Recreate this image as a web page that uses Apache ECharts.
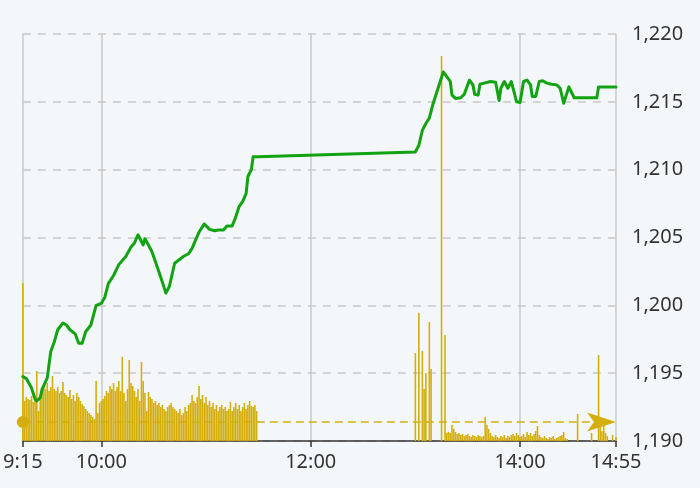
<!DOCTYPE html>
<html><head><meta charset="utf-8">
<script src="https://cdn.jsdelivr.net/npm/echarts@6/dist/echarts.min.js"></script>
<style>html,body{margin:0;padding:0;background:#f4f7fa;}#c{width:700px;height:488px;}</style>
</head><body><div id="c"></div>
<script>
// ---- data ----
const xTickLabels = ['9:15', '10:00', '12:00', '14:00', '14:55'];
const yMin = 1190, yMax = 1220, yStep = 5;
const referencePrice = 1191.4;

const priceTimes = [
  '09:15','09:17','09:20','09:22','09:23','09:25','09:26','09:29','09:31','09:33',
  '09:35','09:38','09:40','09:42','09:45','09:47','09:49','09:51','09:54','09:57',
  '10:00','10:02','10:04','10:07','10:10','10:14','10:17','10:19','10:21','10:22',
  '10:24','10:25','10:27','10:29','10:32','10:35','10:37','10:39','10:42','10:43',
  '10:45','10:47','10:50','10:52','10:54','10:56','10:59','11:00','11:02','11:05',
  '11:07','11:10','11:12','11:15','11:17','11:19','11:21','11:23','11:24','11:26',
  '11:27','11:30',
  '13:00','13:02','13:04','13:06','13:08','13:10','13:13','13:16','13:18','13:20',
  '13:21','13:23','13:26','13:28','13:30','13:31','13:33','13:34','13:36','13:37',
  '13:40','13:43','13:46','13:48','13:49','13:51','13:52','13:53','13:55','13:58',
  '14:00','14:02','14:04','14:06','14:07','14:09','14:11','14:13','14:15','14:18',
  '14:21','14:23','14:25','14:26','14:28','14:29','14:31','14:44','14:45','14:55'
];
const prices = [
  1194.75,1194.6,1193.9,1193.1,1192.95,1193.2,1193.8,1194.65,1196.6,1197.3,
  1198.2,1198.7,1198.55,1198.2,1197.9,1197.2,1197.2,1198.05,1198.55,1200.0,
  1200.15,1200.6,1201.6,1202.2,1203.0,1203.6,1204.3,1204.6,1205.2,1205.1,
  1204.45,1204.9,1204.45,1203.95,1202.85,1201.7,1200.9,1201.4,1203.1,1203.2,
  1203.4,1203.6,1203.8,1204.2,1204.8,1205.4,1206.0,1205.9,1205.6,1205.5,
  1205.55,1205.55,1205.85,1205.85,1206.5,1207.3,1207.65,1208.25,1209.5,1210.0,
  1210.95,1210.95,
  1211.3,1211.8,1212.9,1213.4,1213.8,1214.8,1216.0,1217.2,1216.85,1216.5,
  1215.5,1215.25,1215.3,1215.55,1216.25,1216.6,1216.25,1215.55,1215.5,1216.3,
  1216.4,1216.5,1216.45,1215.1,1216.0,1216.5,1216.4,1216.0,1216.5,1215.0,
  1214.95,1216.5,1216.6,1216.25,1215.4,1215.4,1216.5,1216.55,1216.4,1216.3,
  1216.25,1216.0,1214.9,1215.0,1216.1,1216.0,1215.3,1215.3,1216.1,1216.1
];

const morningStart = '09:15';
const morningVolumes = [
  15.8,4.0,4.4,4.2,4.1,4.5,3.9,4.2,7.0,3.0,
  4.6,5.0,5.5,5.2,5.8,5.0,5.4,6.5,5.2,5.0,
  5.4,4.8,5.0,5.9,4.8,4.6,4.4,5.1,4.2,4.6,
  4.0,4.8,4.4,4.0,3.7,3.5,3.2,3.0,2.8,2.6,
  2.4,2.2,6.0,2.8,3.8,4.0,4.2,4.5,5.0,4.8,
  5.5,5.2,5.8,5.0,5.4,6.0,5.0,8.4,4.8,4.0,
  5.2,8.1,5.8,5.5,5.0,4.4,5.2,4.0,7.9,6.0,
  4.8,3.0,4.9,4.4,4.2,3.8,4.0,3.6,3.8,3.4,
  3.6,3.2,3.0,3.4,3.6,3.8,3.4,3.2,3.0,2.8,
  3.2,2.6,2.8,3.4,3.0,3.6,3.8,4.6,4.0,3.8,
  4.4,5.5,4.2,4.6,3.8,4.4,3.6,4.0,3.4,3.8,
  3.2,3.6,3.0,3.4,3.6,3.2,3.4,3.0,3.2,3.9,
  3.0,3.4,3.8,3.2,3.6,3.0,3.4,3.8,3.2,3.6,
  4.0,3.5,3.4,3.6,3.0
];
const afternoonStart = '13:00';
const afternoonVolumes = [
  8.8,0,12.8,0,9.0,5.2,6.8,0,11.9,7.2,
  0,0,0,0,0,38.5,0,10.6,
  0.8,0.9,0.8,1.6,1.2,0.9,0.7,0.8,0.6,0.7,0.5,0.6,0.7,0.5,0.4,0.6,0.5,0.4,0.6,0.5,0.4,0.5,
  2.4,1.6,1.2,0.8,0.5,0.4,0.6,0.4,0.3,0.5,0.4,0.6,
  0.3,0.5,0.4,0.6,0.7,0.5,0.8,0.6,0.4,0.5,0.7,0.4,0.9,0.6,0.8,0.5,0.7,1.0,
  1.5,0.6,0.4,0.3,0.5,0.3,0.2,0.4,0.3,0.5,0.2,0.3,0.4,0.5,0.6,0.9,0.3,0.2,
  0,0,0,0,0,2.7,0,0,0,0,0,0,0,0.8,0,0,0,
  8.6,1.4,1.0,1.6,0.8,0.5,0,0,0.6,0,0.4
];

// ---- helpers ----
const OPEN = 9 * 60 + 15;
const toMin = t => { const p = t.split(':').map(Number); return p[0] * 60 + p[1] - OPEN; };
const tickMinutes = xTickLabels.map(toMin);
const tickLabelMap = {};
tickMinutes.forEach((m, i) => { tickLabelMap[m] = xTickLabels[i]; });

const priceData = priceTimes.map((t, i) => [toMin(t), prices[i]]);
const volData = [];
morningVolumes.forEach((v, i) => { if (v > 0) volData.push([toMin(morningStart) + i, v]); });
afternoonVolumes.forEach((v, i) => { if (v > 0) volData.push([toMin(afternoonStart) + i, v]); });

const GOLD = '#d4ae0c';
const GREEN = '#12a312';
const FONT = 'Noto Sans';
const xMax = tickMinutes[tickMinutes.length - 1];

const chart = echarts.init(document.getElementById('c'), null, { renderer: 'canvas' });
chart.setOption({
  backgroundColor: '#f4f7fa',
  animation: false,
  grid: { left: 22, right: 84, top: 34, bottom: 47 },
  xAxis: {
    type: 'value', min: 0, max: xMax,
    axisLine: { show: true, lineStyle: { color: '#333', width: 1.5 } },
    axisTick: { show: true, customValues: tickMinutes, length: 6, lineStyle: { color: '#333', width: 1.5 } },
    axisLabel: { customValues: tickMinutes, formatter: v => tickLabelMap[v] || '', fontSize: 20, color: '#333', margin: 11, fontFamily: FONT },
    splitLine: { show: true, lineStyle: { color: '#c8c8c8', width: 1.5 } }
  },
  yAxis: [{
    type: 'value', position: 'right', min: yMin, max: yMax, interval: yStep,
    axisLine: { show: false }, axisTick: { show: false },
    axisLabel: { formatter: v => v.toLocaleString('en-US'), fontSize: 20, color: '#333', margin: 16, fontFamily: FONT },
    splitLine: { show: true, lineStyle: { color: '#c8c8c8', width: 1.5, type: [8, 7] } }
  }, {
    type: 'value', min: 0, max: 40.7, show: false,
    splitLine: { show: false }
  }],
  series: [{
    type: 'bar', xAxisIndex: 0, yAxisIndex: 1, data: volData,
    barWidth: 1.6, itemStyle: { color: GOLD }, silent: true, z: 2
  }, {
    type: 'line', xAxisIndex: 0, yAxisIndex: 0, data: priceData,
    showSymbol: false, symbol: 'none', z: 4,
    lineStyle: { color: GREEN, width: 3, join: 'round', cap: 'round' },
    markLine: {
      silent: true, animation: false, z: 3,
      label: { show: false },
      lineStyle: { color: GOLD, width: 1.5, type: [8, 5] },
      data: [[
        { coord: [0, referencePrice], symbol: 'circle', symbolSize: 12 },
        { coord: [xMax - 8.3, referencePrice], symbol: 'path://M9.5,0 L19,29 L9.5,22 L0,29 Z', symbolSize: [19, 29] }
      ]]
    }
  }]
});
</script></body></html>
